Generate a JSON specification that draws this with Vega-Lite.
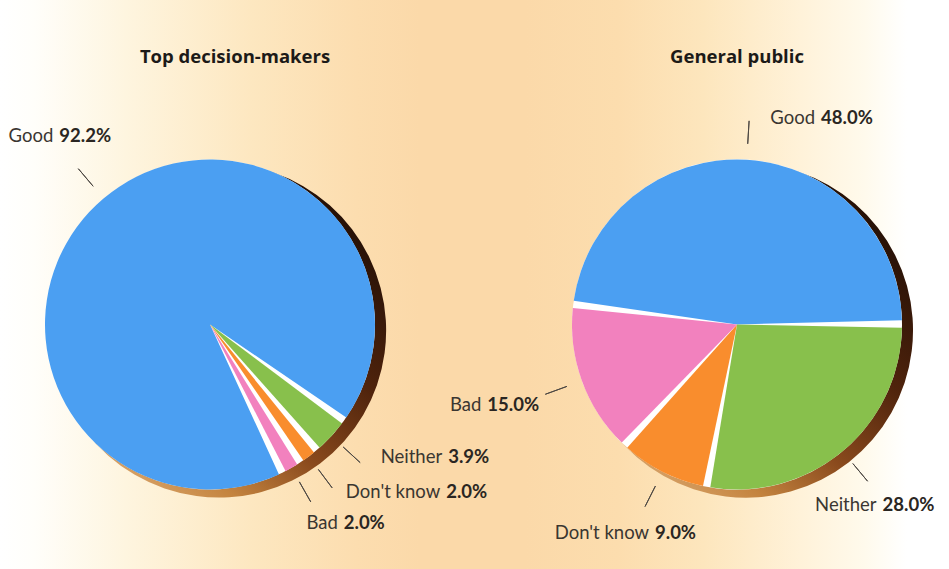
{
  "$schema": "https://vega.github.io/schema/vega-lite/v6.json",
  "padding": 0,
  "spacing": 105,
  "bounds": "flush",
  "background": "#fbd9a9",
  "config": {"view": {"stroke": null}},
  "data": {"values": [
    {"panel": "Top decision-makers", "cat": "Good", "pct": 92.2, "pctLabel": "92.2%", "order": 1},
    {"panel": "Top decision-makers", "cat": "Neither", "pct": 3.9, "pctLabel": "3.9%", "order": 2},
    {"panel": "Top decision-makers", "cat": "Don't know", "pct": 2.0, "pctLabel": "2.0%", "order": 3},
    {"panel": "Top decision-makers", "cat": "Bad", "pct": 2.0, "pctLabel": "2.0%", "order": 4},
    {"panel": "General public", "cat": "Good", "pct": 48.0, "pctLabel": "48.0%", "order": 1},
    {"panel": "General public", "cat": "Neither", "pct": 28.0, "pctLabel": "28.0%", "order": 2},
    {"panel": "General public", "cat": "Don't know", "pct": 9.0, "pctLabel": "9.0%", "order": 3},
    {"panel": "General public", "cat": "Bad", "pct": 15.0, "pctLabel": "15.0%", "order": 4}
  ]},
  "hconcat": [
    {
      "width": 420,
      "height": 569,
      "view": {"stroke": null, "fill": {"gradient": "linear", "x1": 0, "y1": 0, "x2": 1, "y2": 0, "stops": [
        {"offset": 0, "color": "#ffffff"}, {"offset": 0.08, "color": "#fffefa"}, {"offset": 0.3, "color": "#fef5df"},
        {"offset": 0.6, "color": "#fde7c0"}, {"offset": 0.85, "color": "#fcddaf"}, {"offset": 1, "color": "#fbd9a9"}]}},
      "title": {"text": "Top decision-makers", "anchor": "middle", "dx": 25, "offset": -81, "baseline": "alphabetic", "font": "Open Sans", "fontSize": 18.5, "fontWeight": "bold", "color": "#1c1a18"},
      "transform": [
        {"filter": "datum.panel === 'Top decision-makers'"},
        {"stack": "pct", "groupby": ["panel"], "sort": [{"field": "order", "order": "ascending"}], "as": ["s0", "s1"]}
      ],
      "layer": [
        {
          "transform": [{"aggregate": [{"op": "sum", "field": "pct", "as": "tot"}]}],
          "encoding": {"theta": {"field": "tot", "type": "quantitative", "scale": {"domain": [0, 100.1], "range": [2.68781, 8.971]}}},
          "layer": [
            {"mark": {"type": "arc", "radius": 167, "xOffset": 9, "yOffset": 46, "fill": {"gradient": "linear", "x1": 0.9, "y1": 0.1, "x2": 0.15, "y2": 0.95, "stops": [
              {"offset": 0, "color": "#1e0d05"}, {"offset": 0.35, "color": "#4f230c"}, {"offset": 0.6, "color": "#8a4a1d"},
              {"offset": 0.8, "color": "#c4843f"}, {"offset": 1, "color": "#dcaa72"}]}}},
            {"mark": {"type": "arc", "radius": 165, "yOffset": 40, "fill": "#ffffff"}}
          ]
        },
        {
          "mark": {"type": "arc", "radius": 165, "padAngle": 0.045, "yOffset": 40},
          "encoding": {
            "theta": {"field": "s0", "type": "quantitative", "stack": null, "scale": {"domain": [0, 100.1], "range": [2.68781, 8.971]}},
            "theta2": {"field": "s1"},
            "color": {"field": "cat", "type": "nominal", "legend": null, "scale": {"domain": ["Good", "Neither", "Don't know", "Bad"], "range": ["#4b9ff2", "#88c04c", "#f98d2d", "#f281be"]}}
          }
        },
        {
          "transform": [
            {"fold": ["s0", "s1"], "as": ["edge", "ang"]},
            {"aggregate": [{"op": "mean", "field": "ang", "as": "mid"}], "groupby": ["cat", "pctLabel", "order"]}
          ],
          "encoding": {"theta": {"field": "mid", "type": "quantitative", "stack": null, "scale": {"domain": [0, 100.1], "range": [2.68781, 8.971]}}},
          "layer": [
            {"mark": {"type": "arc", "radius": 204, "radius2": 181, "filled": false, "stroke": "#4d4843", "strokeWidth": 1, "yOffset": 40}, "encoding": {"theta2": {"field": "mid"}}},
            {"transform": [{"filter": "datum.order === 1"}], "mark": {"type": "text", "radius": 204, "yOffset": 40, "dx": -25, "dy": -33, "align": "right", "baseline": "middle", "font": "Lato", "fontSize": 18.5, "color": "#3a3631"}, "encoding": {"text": {"field": "cat"}}},
            {"transform": [{"filter": "datum.order === 1"}], "mark": {"type": "text", "radius": 204, "yOffset": 40, "dx": -19, "dy": -33, "align": "left", "baseline": "middle", "font": "Lato", "fontSize": 18.5, "fontWeight": "bold", "color": "#2a2622"}, "encoding": {"text": {"field": "pctLabel"}}},
            {"transform": [{"filter": "datum.order === 2"}], "mark": {"type": "text", "radius": 204, "yOffset": 40, "dx": 82, "dy": -6, "align": "right", "baseline": "middle", "font": "Lato", "fontSize": 18.5, "color": "#3a3631"}, "encoding": {"text": {"field": "cat"}}},
            {"transform": [{"filter": "datum.order === 2"}], "mark": {"type": "text", "radius": 204, "yOffset": 40, "dx": 88, "dy": -6, "align": "left", "baseline": "middle", "font": "Lato", "fontSize": 18.5, "fontWeight": "bold", "color": "#2a2622"}, "encoding": {"text": {"field": "pctLabel"}}},
            {"transform": [{"filter": "datum.order === 3"}], "mark": {"type": "text", "radius": 204, "yOffset": 40, "dx": 108, "dy": 4, "align": "right", "baseline": "middle", "font": "Lato", "fontSize": 18.5, "color": "#3a3631"}, "encoding": {"text": {"field": "cat"}}},
            {"transform": [{"filter": "datum.order === 3"}], "mark": {"type": "text", "radius": 204, "yOffset": 40, "dx": 114, "dy": 4, "align": "left", "baseline": "middle", "font": "Lato", "fontSize": 18.5, "fontWeight": "bold", "color": "#2a2622"}, "encoding": {"text": {"field": "pctLabel"}}},
            {"transform": [{"filter": "datum.order === 4"}], "mark": {"type": "text", "radius": 204, "yOffset": 40, "dx": 27, "dy": 21, "align": "right", "baseline": "middle", "font": "Lato", "fontSize": 18.5, "color": "#3a3631"}, "encoding": {"text": {"field": "cat"}}},
            {"transform": [{"filter": "datum.order === 4"}], "mark": {"type": "text", "radius": 204, "yOffset": 40, "dx": 33, "dy": 21, "align": "left", "baseline": "middle", "font": "Lato", "fontSize": 18.5, "fontWeight": "bold", "color": "#2a2622"}, "encoding": {"text": {"field": "pctLabel"}}}
          ]
        }
      ]
    },
    {
      "width": 424,
      "height": 569,
      "view": {"stroke": null, "fill": {"gradient": "linear", "x1": 0, "y1": 0, "x2": 1, "y2": 0, "stops": [
        {"offset": 0, "color": "#fbd9a9"}, {"offset": 0.22, "color": "#fcddae"}, {"offset": 0.42, "color": "#fde6bd"},
        {"offset": 0.65, "color": "#fff2d9"}, {"offset": 0.8, "color": "#fffaec"}, {"offset": 0.9, "color": "#ffffff"}, {"offset": 1, "color": "#ffffff"}]}},
      "title": {"text": "General public", "anchor": "middle", "offset": -81, "baseline": "alphabetic", "font": "Open Sans", "fontSize": 18.5, "fontWeight": "bold", "color": "#1c1a18"},
      "transform": [
        {"filter": "datum.panel === 'General public'"},
        {"stack": "pct", "groupby": ["panel"], "sort": [{"field": "order", "order": "ascending"}], "as": ["s0", "s1"]}
      ],
      "layer": [
        {
          "transform": [{"aggregate": [{"op": "sum", "field": "pct", "as": "tot"}]}],
          "encoding": {"theta": {"field": "tot", "type": "quantitative", "scale": {"domain": [0, 100], "range": [4.83456, 11.11775]}}},
          "layer": [
            {"mark": {"type": "arc", "radius": 167, "xOffset": 9, "yOffset": 46, "fill": {"gradient": "linear", "x1": 0.9, "y1": 0.1, "x2": 0.15, "y2": 0.95, "stops": [
              {"offset": 0, "color": "#1e0d05"}, {"offset": 0.35, "color": "#4f230c"}, {"offset": 0.6, "color": "#8a4a1d"},
              {"offset": 0.8, "color": "#c4843f"}, {"offset": 1, "color": "#dcaa72"}]}}},
            {"mark": {"type": "arc", "radius": 165, "yOffset": 40, "fill": "#ffffff"}}
          ]
        },
        {
          "mark": {"type": "arc", "radius": 165, "padAngle": 0.045, "yOffset": 40},
          "encoding": {
            "theta": {"field": "s0", "type": "quantitative", "stack": null, "scale": {"domain": [0, 100], "range": [4.83456, 11.11775]}},
            "theta2": {"field": "s1"},
            "color": {"field": "cat", "type": "nominal", "legend": null, "scale": {"domain": ["Good", "Neither", "Don't know", "Bad"], "range": ["#4b9ff2", "#88c04c", "#f98d2d", "#f281be"]}}
          }
        },
        {
          "transform": [
            {"fold": ["s0", "s1"], "as": ["edge", "ang"]},
            {"aggregate": [{"op": "mean", "field": "ang", "as": "mid"}], "groupby": ["cat", "pctLabel", "order"]}
          ],
          "encoding": {"theta": {"field": "mid", "type": "quantitative", "stack": null, "scale": {"domain": [0, 100], "range": [4.83456, 11.11775]}}},
          "layer": [
            {"mark": {"type": "arc", "radius": 204, "radius2": 181, "filled": false, "stroke": "#4d4843", "strokeWidth": 1, "yOffset": 40}, "encoding": {"theta2": {"field": "mid"}}},
            {"transform": [{"filter": "datum.order === 1"}], "mark": {"type": "text", "radius": 204, "yOffset": 40, "dx": 66, "dy": -3, "align": "right", "baseline": "middle", "font": "Lato", "fontSize": 18.5, "color": "#3a3631"}, "encoding": {"text": {"field": "cat"}}},
            {"transform": [{"filter": "datum.order === 1"}], "mark": {"type": "text", "radius": 204, "yOffset": 40, "dx": 72, "dy": -3, "align": "left", "baseline": "middle", "font": "Lato", "fontSize": 18.5, "fontWeight": "bold", "color": "#2a2622"}, "encoding": {"text": {"field": "pctLabel"}}},
            {"transform": [{"filter": "datum.order === 2"}], "mark": {"type": "text", "radius": 204, "yOffset": 40, "dx": 9, "dy": 24, "align": "right", "baseline": "middle", "font": "Lato", "fontSize": 18.5, "color": "#3a3631"}, "encoding": {"text": {"field": "cat"}}},
            {"transform": [{"filter": "datum.order === 2"}], "mark": {"type": "text", "radius": 204, "yOffset": 40, "dx": 15, "dy": 24, "align": "left", "baseline": "middle", "font": "Lato", "fontSize": 18.5, "fontWeight": "bold", "color": "#2a2622"}, "encoding": {"text": {"field": "pctLabel"}}},
            {"transform": [{"filter": "datum.order === 3"}], "mark": {"type": "text", "radius": 204, "yOffset": 40, "dx": 4, "dy": 26, "align": "right", "baseline": "middle", "font": "Lato", "fontSize": 18.5, "color": "#3a3631"}, "encoding": {"text": {"field": "cat"}}},
            {"transform": [{"filter": "datum.order === 3"}], "mark": {"type": "text", "radius": 204, "yOffset": 40, "dx": 10, "dy": 26, "align": "left", "baseline": "middle", "font": "Lato", "fontSize": 18.5, "fontWeight": "bold", "color": "#2a2622"}, "encoding": {"text": {"field": "pctLabel"}}},
            {"transform": [{"filter": "datum.order === 4"}], "mark": {"type": "text", "radius": 204, "yOffset": 40, "dx": -64, "dy": 11, "align": "right", "baseline": "middle", "font": "Lato", "fontSize": 18.5, "color": "#3a3631"}, "encoding": {"text": {"field": "cat"}}},
            {"transform": [{"filter": "datum.order === 4"}], "mark": {"type": "text", "radius": 204, "yOffset": 40, "dx": -58, "dy": 11, "align": "left", "baseline": "middle", "font": "Lato", "fontSize": 18.5, "fontWeight": "bold", "color": "#2a2622"}, "encoding": {"text": {"field": "pctLabel"}}}
          ]
        }
      ]
    }
  ]
}
